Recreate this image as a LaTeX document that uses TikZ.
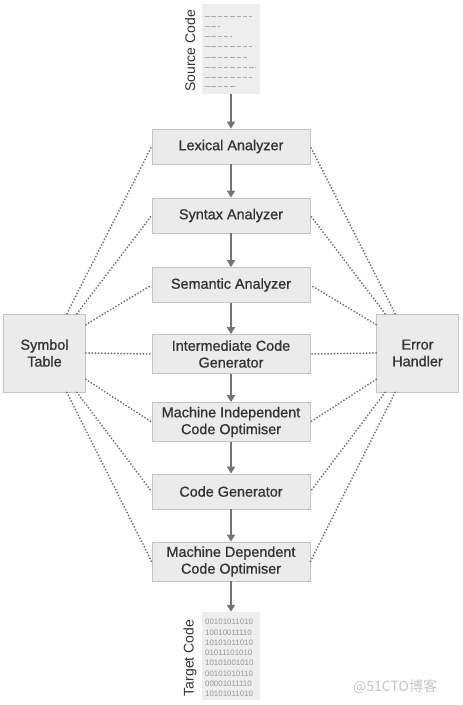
\documentclass[tikz,border=0pt]{standalone}
\usepackage{fontspec}
\setmainfont{Liberation Sans}
\newfontfamily\boxfont[FakeBold=0.9]{Liberation Sans}
\newfontfamily\cjkfont{Noto Sans CJK SC}
\usetikzlibrary{arrows.meta,positioning,calc}
\definecolor{boxfill}{HTML}{EBEBEB}
\definecolor{boxline}{HTML}{C4C4C4}
\definecolor{boxtext}{HTML}{333333}
\definecolor{arrgray}{HTML}{747474}
\definecolor{dotgray}{HTML}{707070}
\definecolor{paper}{HTML}{EEEEEE}
\definecolor{inkgray}{HTML}{969696}
\definecolor{dashgray}{HTML}{ABABAB}
\definecolor{markgray}{HTML}{C4C4C4}

\begin{document}
\begin{tikzpicture}[x=1pt,y=-1pt,
  phase/.style={rectangle,fill=boxfill,draw=boxline,line width=0.8pt,
                minimum width=158pt,minimum height=35pt,inner sep=0pt,
                font=\boxfont\fontsize{14.4}{16.8}\selectfont,text=boxtext,align=center},
  tallphase/.style={phase,minimum height=39pt},
  sidebox/.style={phase,minimum width=82pt,minimum height=78pt},
  paperbox/.style={rectangle,fill=paper,inner sep=0pt,
                   minimum width=58pt,minimum height=90pt},
  doclabel/.style={font=\fontsize{14}{16}\selectfont,text=boxtext,rotate=90},
  codedash/.style={dashgray,line width=1pt,dash pattern=on 4.5pt off 1.8pt},
  bitrow/.style={font=\fontsize{7.9}{9}\selectfont,text=inkgray,inner sep=0pt,anchor=west},
  arr/.style={-{Triangle[width=8pt,length=7pt]},line width=1.8pt,arrgray},
  link/.style={dotgray,line width=2pt,line cap=round,dash pattern=on 0pt off 3.2pt}
]
  \useasboundingbox (0,0) rectangle (463,705);

  % ---- Source code sheet ---------------------------------------
  \node[paperbox] (src) at (231,48.5) {};
  \node[doclabel] (srclabel) at (190,51) {Source Code};
  \foreach \row/\stop in {16/252,26/220,36/232,46/252,57/247,67/256,77/252,86/236}
    \draw[codedash] (205,\row) -- (\stop,\row);

  % ---- Compiler phases (middle column) --------------------------
  \node[phase]     (lex) at (231,146.5) {Lexical Analyzer};
  \node[phase]     (syn) at (231,215.5) {Syntax Analyzer};
  \node[phase]     (sem) at (231,285)   {Semantic Analyzer};
  \node[tallphase] (icg) at (231,354)   {Intermediate Code\\Generator};
  \node[tallphase] (mio) at (231,422)   {Machine Independent\\Code Optimiser};
  \node[phase]     (cg)  at (231,491.5) {Code Generator};
  \node[tallphase] (mdo) at (231,561.5) {Machine Dependent\\Code Optimiser};

  % ---- Target code sheet ---------------------------------------
  \node[paperbox,minimum height=88pt] (tgt) at (231,656) {};
  \node[doclabel] (tgtlabel) at (190,658) {Target Code};
  \foreach \bits [count=\i from 0] in {00101011010,10010011110,10101011010,01011101010,
                                       10101001010,00101010110,00001011110,10101011010}
    \node[bitrow] at (205,{622+10.3*\i}) {\bits};

  % ---- Side tables ----------------------------------------------
  \node[sidebox] (sym) at (44.5,353)  {Symbol\\Table};
  \node[sidebox] (err) at (417.5,353) {Error\\Handler};

  % Flow arrows down the column
  \foreach \a/\b in {src/lex,lex/syn,syn/sem,sem/icg,icg/mio,mio/cg,cg/mdo,mdo/tgt}
    \draw[arr] (\a) -- (\b);

  % Dotted links to the symbol table
  \draw[link] ($(sym.north east)+(-19,0)$) -- (lex.west);
  \draw[link] ($(sym.north east)+(-9,0)$)  -- (syn.west);
  \draw[link] ($(sym.north east)+(0,11)$)  -- (sem.west);
  \draw[link] (sym.east)                   -- (icg.west);
  \draw[link] ($(sym.south east)+(0,-13)$) -- (mio.west);
  \draw[link] ($(sym.south east)+(-9,0)$)  -- (cg.west);
  \draw[link] ($(sym.south east)+(-19,0)$) -- (mdo.west);

  % Dotted links to the error handler
  \draw[link] ($(err.north west)+(19,0)$)  -- (lex.east);
  \draw[link] ($(err.north west)+(9,0)$)   -- (syn.east);
  \draw[link] ($(err.north west)+(0,11)$)  -- (sem.east);
  \draw[link] (err.west)                   -- (icg.east);
  \draw[link] ($(err.south west)+(0,-13)$) -- (mio.east);
  \draw[link] ($(err.south west)+(9,0)$)   -- (cg.east);
  \draw[link] ($(err.south west)+(19,0)$)  -- (mdo.east);

  % Watermark
  \node[font=\cjkfont\fontsize{14}{16}\selectfont,text=markgray,anchor=west,inner sep=0pt]
    (mark) at (353,687) {@51CTO博客};

\end{tikzpicture}
\end{document}
